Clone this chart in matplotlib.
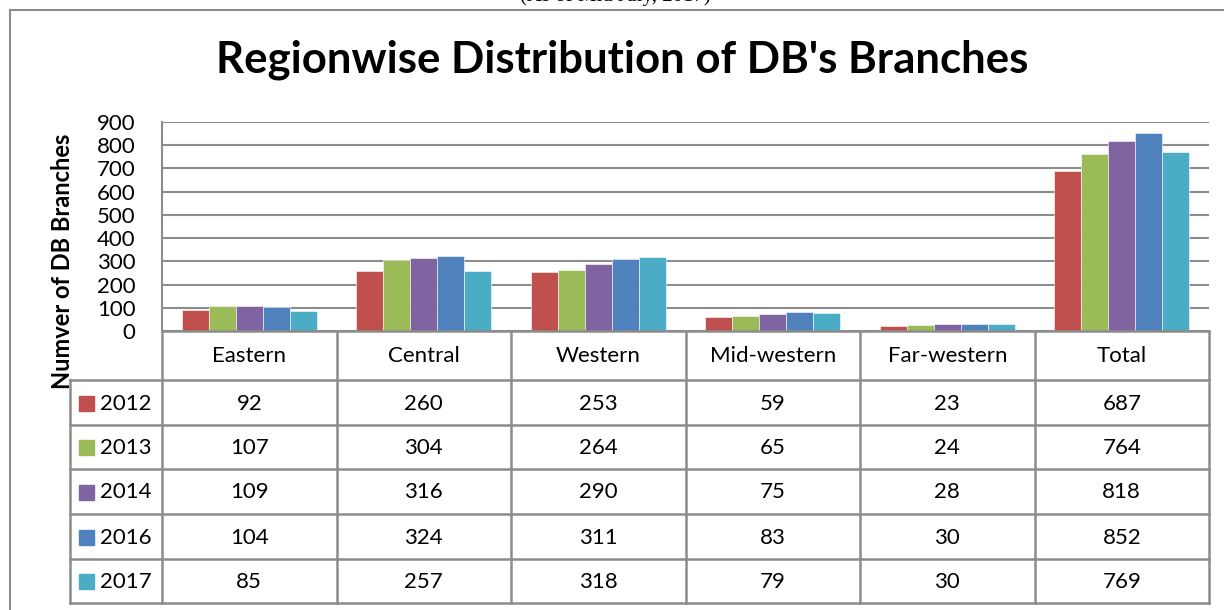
import matplotlib
matplotlib.use("Agg")
import matplotlib.pyplot as plt
from matplotlib.lines import Line2D
from matplotlib.patches import Rectangle

# data
regions = ["Eastern", "Central", "Western", "Mid-western", "Far-western", "Total"]
years = ["2012", "2013", "2014", "2016", "2017"]
v2012 = [92, 260, 253, 59, 23, 687]
v2013 = [107, 304, 264, 65, 24, 764]
v2014 = [109, 316, 290, 75, 28, 818]
v2016 = [104, 324, 311, 83, 30, 852]
v2017 = [85, 257, 318, 79, 30, 769]
series = [v2012, v2013, v2014, v2016, v2017]
colors = ["#C0504D", "#9BBB59", "#8064A2", "#4F81BD", "#4BACC6"]
yticks = [0, 100, 200, 300, 400, 500, 600, 700, 800, 900]

plt.rcParams['font.family'] = ['Lato', 'DejaVu Sans']
W, H = 1224, 610
grid_col = "#8C8C8C"
fs = 16

fig = plt.figure(figsize=(W / 100, H / 100), dpi=100)

def fx(px):
    return px / W

def fy(py):
    return 1 - py / H

# outer frame (top and left edges)
fig.add_artist(Line2D([fx(10), 1], [fy(10), fy(10)], color=grid_col, lw=1.5))
fig.add_artist(Line2D([fx(10), fx(10)], [fy(10), 0], color=grid_col, lw=1.5))

# subtitle, cut off at the top edge as in the source
fig.text(fx(615), fy(-4), "(As of Mid July, 2017)", ha="center", va="center",
         fontsize=15, family="Liberation Serif")

fig.text(fx(622), fy(60), "Regionwise Distribution of DB's Branches",
         ha="center", va="center", fontsize=31.5, fontweight="bold")

# bar chart area
left, right, top, base = 162, 1209, 122, 331
ax = fig.add_axes([fx(left), fy(base), fx(right - left), (base - top) / H])
n = len(regions)
w = 0.155
for j, vals in enumerate(series):
    xs = [i + (j - 2) * w for i in range(n)]
    ax.bar(xs, vals, width=w, color=colors[j], edgecolor="white", linewidth=0.4, zorder=3)
ax.set_xlim(-0.5, n - 0.5)
ax.set_ylim(0, 900)
ax.set_yticks(yticks)
ax.set_yticklabels([str(t) for t in yticks], fontsize=fs)
ax.tick_params(axis="y", length=0, pad=19)
ax.tick_params(axis="x", length=0, labelbottom=False)
ax.yaxis.grid(True, color=grid_col, lw=1.5, zorder=0)
for s in ["top", "right", "bottom"]:
    ax.spines[s].set_visible(False)
ax.spines["left"].set_color(grid_col)
ax.spines["left"].set_linewidth(1.5)

fig.text(fx(62), fy(261), "Numver of DB Branches", rotation=90, ha="center",
         va="center", fontsize=17, fontweight="bold")

# data table below
tleft = 70
row_y = [331, 380, 425, 469, 514, 559, 603]
col_x = [left + (right - left) * k / n for k in range(n + 1)]
tax = fig.add_axes([fx(tleft), fy(603), fx(right - tleft), (603 - 331) / H])
tax.set_xlim(tleft, right)
tax.set_ylim(603, 331)
tax.axis("off")
lw = 1.8
for x in col_x:
    tax.add_line(Line2D([x, x], [331, 603], color=grid_col, lw=lw, clip_on=False))
tax.add_line(Line2D([tleft, tleft], [380, 603], color=grid_col, lw=lw, clip_on=False))
for k, y in enumerate(row_y):
    x0 = left if k == 0 else tleft
    tax.add_line(Line2D([x0, right], [y, y], color=grid_col, lw=lw, clip_on=False))

for i, name in enumerate(regions):
    cx = (col_x[i] + col_x[i + 1]) / 2
    tax.text(cx, (row_y[0] + row_y[1]) / 2 + 1, name, ha="center", va="center", fontsize=fs)
for j, vals in enumerate(series):
    cy = (row_y[j + 1] + row_y[j + 2]) / 2 + 1
    tax.add_patch(Rectangle((79, cy - 8), 15, 15, color=colors[j]))
    tax.text(100, cy, years[j], ha="left", va="center", fontsize=fs)
    for i, v in enumerate(vals):
        cx = (col_x[i] + col_x[i + 1]) / 2
        tax.text(cx, cy, str(v), ha="center", va="center", fontsize=fs)

fig.savefig("out.png", dpi=100)
